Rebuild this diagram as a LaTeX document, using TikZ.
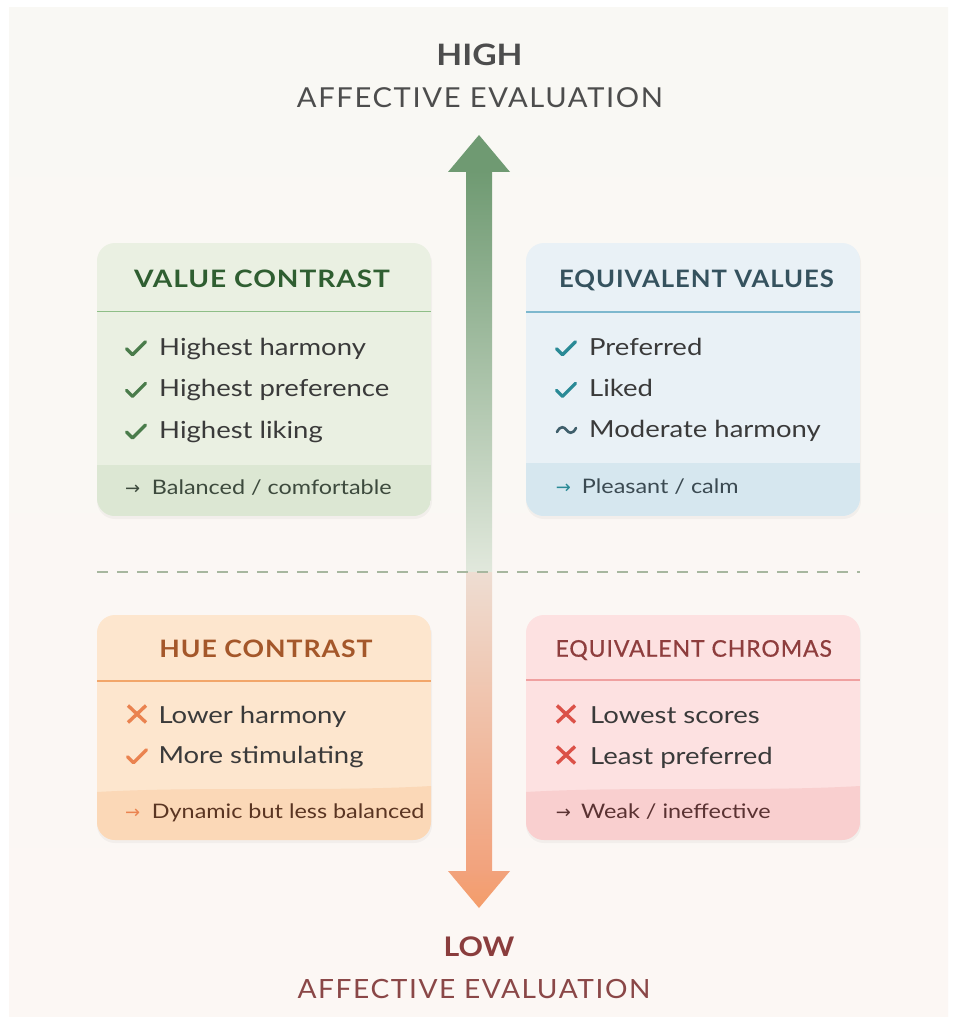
\documentclass[tikz,border=0pt]{standalone}
\usepackage{fontspec}
\setmainfont{Lato}[FakeStretch=1.17]
\newfontfamily\symf{DejaVu Sans}
\newfontfamily\spacedf{Lato}[LetterSpace=6,FakeStretch=1.06]
\newfontfamily\capsf{Lato}[LetterSpace=4]
\definecolor{bgA}{HTML}{F9F8F4}
\definecolor{bgB}{HTML}{FCF7F4}
\definecolor{hiC}{HTML}{4D4D4D}
\definecolor{loC}{HTML}{8A3D3D}
\definecolor{loC2}{HTML}{8A4747}
\definecolor{shG1}{HTML}{6F9A72}
\definecolor{shG2}{HTML}{E1E8DC}
\definecolor{shO1}{HTML}{EEDDD2}
\definecolor{shO2}{HTML}{F2A27C}
\definecolor{dashC}{HTML}{A7B79F}
\definecolor{itemC}{HTML}{3A3A3A}
% green box
\definecolor{gFill}{HTML}{EAF0E2}
\definecolor{gStrip}{HTML}{DCE7D3}
\definecolor{gTitle}{HTML}{2F5E31}
\definecolor{gLine}{HTML}{8EBE87}
\definecolor{gMark}{HTML}{4A7C4B}
\definecolor{gFoot}{HTML}{3D4A3D}
% blue box
\definecolor{bFill}{HTML}{E9F1F6}
\definecolor{bStrip}{HTML}{D6E7EF}
\definecolor{bTitle}{HTML}{35525E}
\definecolor{bLine}{HTML}{7DB8CE}
\definecolor{bMark}{HTML}{2A8A96}
\definecolor{bTilde}{HTML}{3F5F6B}
\definecolor{bFoot}{HTML}{3B4A52}
% orange box
\definecolor{oFill}{HTML}{FDE6CE}
\definecolor{oStrip}{HTML}{FBD8B7}
\definecolor{oTitle}{HTML}{A4572A}
\definecolor{oLine}{HTML}{F2A66A}
\definecolor{oMark}{HTML}{EA8350}
\definecolor{oFoot}{HTML}{5A3522}
% pink box
\definecolor{pFill}{HTML}{FDE1E1}
\definecolor{pStrip}{HTML}{F9CFCF}
\definecolor{pTitle}{HTML}{8E3D3D}
\definecolor{pLine}{HTML}{F0A0A0}
\definecolor{pMark}{HTML}{DB5148}
\definecolor{pFoot}{HTML}{5A3232}
\begin{document}
\begin{tikzpicture}[x=1pt,y=-1pt,
  txt/.style={inner sep=0pt,anchor=base},
  boxtitle/.style={inner sep=0pt,anchor=base,font=\capsf\bfseries\fontsize{24}{28}\selectfont},
  item/.style={inner sep=0pt,anchor=base west,text=itemC,font=\fontsize{23.5}{28}\selectfont},
  foot/.style={inner sep=0pt,anchor=base west,font=\fontsize{20}{24}\selectfont},
  farrow/.style={inner sep=0pt,anchor=base west,font=\symf\fontsize{18}{20}\selectfont},
  hdline/.style={line width=1.6pt},
  chk/.pic={\draw[line width=3.3pt,line cap=round,line join=round,pic actions] (-9.5,0) -- (-3.5,6) -- (9.5,-7);},
  crs/.pic={\draw[line width=3.4pt,pic actions] (-9,-8.5) -- (9,8.5) (-9,8.5) -- (9,-8.5);},
  tld/.pic={\draw[line width=2.6pt,line cap=round,pic actions] (-9.5,2) .. controls (-6,-5) and (-2,-3) .. (0,0) .. controls (2,3) and (6,5) .. (9.5,-2);},
  shadow/.style={fill=black,opacity=0.035}]
\fill[white] (0,0) rectangle (957,1024);
\useasboundingbox (0,0) rectangle (957,1024);
\shade[top color=bgA,bottom color=bgB] (9,8) rectangle (948,1016);

% axis arrow
\shade[top color=shG1,bottom color=shG2] (466,171) rectangle (492,571);
\shade[top color=shO1,bottom color=shO2] (466,572) rectangle (492,872);
\fill[shG1] (448,172) -- (479,135) -- (510,172) -- cycle;
\shade[top color=shO2,bottom color=shO2!85!orange] (448,871) -- (510,871) -- (479,908) -- cycle;

% dashed divider
\coordinate (dl) at (97,572);
\coordinate (dr) at (860,572);
\draw[dashC,line width=2.5pt,dash pattern=on 11pt off 9pt] (dl) -- (dr);

% top labels
\node[txt,text=hiC,font=\bfseries\fontsize{29.5}{34}\selectfont\addfontfeature{FakeStretch=1.14}] (high) at (479.5,66) {HIGH};
\node[txt,text=hiC,font=\spacedf\fontsize{27.5}{32}\selectfont] (highsub) at (480,107.3) {AFFECTIVE EVALUATION};
\node[txt,text=loC,font=\bfseries\fontsize{27}{32}\selectfont\addfontfeature{FakeStretch=1.12}] (low) at (479,956) {LOW};
\node[txt,text=loC2,font=\spacedf\fontsize{26.5}{32}\selectfont] (lowsub) at (474,998.3) {AFFECTIVE EVALUATION};

% shadows
\fill[shadow,rounded corners=18pt] (97,245) rectangle (432,519);
\fill[shadow,rounded corners=18pt] (526,245) rectangle (861,519);
\fill[shadow,rounded corners=18pt] (97,617) rectangle (432,843);
\fill[shadow,rounded corners=18pt] (526,617) rectangle (861,843);

% ---------- green box
\begin{scope}
\clip[rounded corners=18pt] (97,243) rectangle (431,516);
\fill[gFill] (97,243) rectangle (431,516);
\fill[gStrip] (97,465) rectangle (431,516);
\draw[gLine,hdline] (97,311.5) -- (431,311.5);
\end{scope}
\node[boxtitle,text=gTitle,font=\capsf\bfseries\fontsize{24}{28}\selectfont\addfontfeature{FakeStretch=1.17}] (vct) at (262,287.7) {VALUE CONTRAST};
\pic[gMark] at (136,348.7) {chk};
\node[item] (g1) at (159,355) {Highest harmony};
\pic[gMark] at (136,390.4) {chk};
\node[item] (g2) at (159,396.7) {Highest preference};
\pic[gMark] at (136,432) {chk};
\node[item] (g3) at (159,438.3) {Highest liking};
\node[farrow,text=gFoot] (gfa) at (125,494) {→};
\node[foot,text=gFoot] (gf) at (151.7,494) {Balanced / comfortable};

% ---------- blue box
\begin{scope}
\clip[rounded corners=18pt] (526,243) rectangle (860,516);
\fill[bFill] (526,243) rectangle (860,516);
\fill[bStrip] (526,463) rectangle (860,516);
\draw[bLine,hdline] (526,312) -- (860,312);
\end{scope}
\node[boxtitle,text=bTitle,font=\capsf\bfseries\fontsize{24}{28}\selectfont\addfontfeature{FakeStretch=1.07}] (evt) at (696.5,287.7) {EQUIVALENT VALUES};
\pic[bMark] at (566,348.7) {chk};
\node[item] (b1) at (589,355) {Preferred};
\pic[bMark] at (566,390.4) {chk};
\node[item] (b2) at (589,396.7) {Liked};
\pic[bTilde] at (566.5,430) {tld};
\node[item] (b3) at (589,437.7) {Moderate harmony};
\node[farrow,text=bMark] (bfa) at (555.7,493.3) {→};
\node[foot,text=bFoot] (bf) at (581.7,493.3) {Pleasant / calm};

% ---------- orange box
\begin{scope}
\clip[rounded corners=18pt] (97,615) rectangle (431,840);
\fill[oFill] (97,615) rectangle (431,840);
\fill[oStrip] (97,792) .. controls (200,786) and (330,792) .. (431,786) -- (431,840) -- (97,840) -- cycle;
\draw[oLine,hdline] (97,681) -- (431,681);
\end{scope}
\node[boxtitle,text=oTitle,font=\capsf\bfseries\fontsize{24}{28}\selectfont\addfontfeature{FakeStretch=1.11}] (hct) at (266,657.7) {HUE CONTRAST};
\pic[oMark] at (137,714) {crs};
\node[item] (o1) at (158.3,723.3) {Lower harmony};
\pic[oMark] at (137,756.7) {chk};
\node[item] (o2) at (158.3,763.3) {More stimulating};
\node[farrow,text=oMark] (ofa) at (125,818.3) {→};
\node[foot,text=oFoot] (of) at (151.7,818.3) {Dynamic but less balanced};

% ---------- pink box
\begin{scope}
\clip[rounded corners=18pt] (526,615) rectangle (860,840);
\fill[pFill] (526,615) rectangle (860,840);
\fill[pStrip] (526,792) .. controls (630,786) and (760,792) .. (860,786) -- (860,840) -- (526,840) -- cycle;
\draw[pLine,hdline] (526,680) -- (860,680);
\end{scope}
\node[boxtitle,text=pTitle,font=\capsf\fontsize{23}{28}\selectfont\addfontfeature{FakeBold=0.6}] (ect) at (693.7,656.7) {EQUIVALENT CHROMAS};
\pic[pMark] at (566,714) {crs};
\node[item] (p1) at (590,723.3) {Lowest scores};
\pic[pMark] at (566,755) {crs};
\node[item] (p2) at (590,764.3) {Least preferred};
\node[farrow,text=pFoot] (pfa) at (555.7,818.3) {→};
\node[foot,text=pFoot] (pf) at (581,818.3) {Weak / ineffective};
\end{tikzpicture}
\end{document}
